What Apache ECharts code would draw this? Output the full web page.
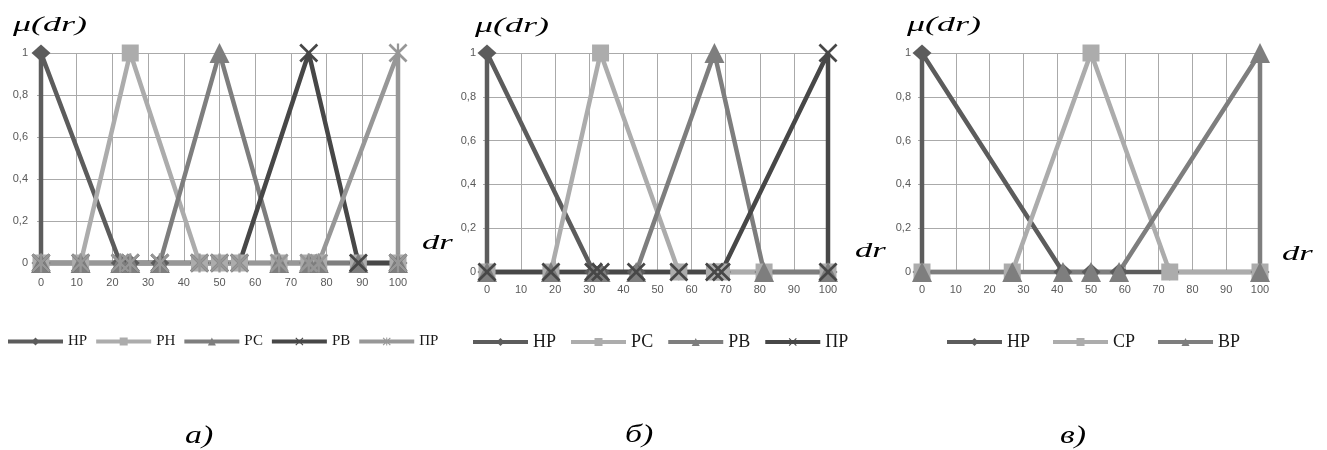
<!DOCTYPE html>
<html>
<head>
<meta charset="utf-8">
<script src="https://cdn.jsdelivr.net/npm/echarts@6/dist/echarts.min.js"></script>
<style>
  html, body { margin: 0; padding: 0; background: #fff; }
  #chart { width: 1327px; height: 450px; }
</style>
</head>
<body>
<div id="chart"></div>
<script>
// Membership functions μ(dr) of the linguistic terms, three partitions of dr ∈ [0, 100]

// а) five terms
const aNames = ['НР', 'РН', 'РС', 'РВ', 'ПР'];
const aHP = [[0,0],[0,1],[22.2,0],[25,0],[33.3,0],[44.4,0],[50,0],[55.6,0],[66.7,0],[75,0],[77.8,0],[88.9,0],[100,0]];
const aRH = [[0,0],[11.1,0],[25,1],[44.4,0],[50,0],[55.6,0],[66.7,0],[75,0],[77.8,0],[88.9,0],[100,0]];
const aRS = [[0,0],[11.1,0],[22.2,0],[25,0],[33.3,0],[50,1],[66.7,0],[75,0],[77.8,0],[88.9,0],[100,0]];
const aRV = [[0,0],[11.1,0],[22.2,0],[25,0],[33.3,0],[44.4,0],[50,0],[55.6,0],[75,1],[88.9,0],[100,0]];
const aPR = [[0,0],[11.1,0],[22.2,0],[25,0],[33.3,0],[44.4,0],[50,0],[55.6,0],[66.7,0],[75,0],[77.8,0],[100,1],[100,0]];

// б) four terms
const bNames = ['НР', 'РС', 'РВ', 'ПР'];
const bHP = [[0,0],[0,1],[31.25,0],[33.3,0],[43.75,0],[56.25,0],[66.7,0],[68.75,0],[81.25,0],[100,0]];
const bRS = [[0,0],[18.75,0],[33.3,1],[56.25,0],[66.7,0],[68.75,0],[81.25,0],[100,0]];
const bRV = [[0,0],[18.75,0],[31.25,0],[33.3,0],[43.75,0],[66.7,1],[81.25,0],[100,0]];
const bPR = [[0,0],[18.75,0],[31.25,0],[33.3,0],[43.75,0],[56.25,0],[66.7,0],[68.75,0],[100,1],[100,0]];

// в) three terms
const cNames = ['НР', 'СР', 'ВР'];
const cHP = [[0,0],[0,1],[41.7,0],[50,0],[58.3,0],[73.3,0],[100,0]];
const cSR = [[0,0],[26.7,0],[50,1],[73.3,0],[100,0]];
const cVR = [[0,0],[26.7,0],[41.7,0],[50,0],[58.3,0],[100,1],[100,0]];

// axis tick labels
const yTickLabels = ['0', '0,2', '0,4', '0,6', '0,8', '1'];
const xTickLabels = ['0', '10', '20', '30', '40', '50', '60', '70', '80', '90', '100'];

// panel captions and axis titles
const panelCaptions = ['а)', 'б)', 'в)'];
const yTitle = 'μ(dr)';
const xTitle = 'dr';

// marker shapes: a cross and an asterisk (cross with a vertical bar)
const X_PATH = 'path://M0,1L1,0L5,4L9,0L10,1L6,5L10,9L9,10L5,6L1,10L0,9L4,5Z';
const STAR_PATH = X_PATH + 'M4.4,0L5.6,0L5.6,10L4.4,10Z';

const C_DARK = '#5c5c5c';
const C_LIGHT = '#acacac';
const C_MID = '#7e7e7e';
const C_DARKER = '#474747';
const C_PALE = '#979797';
const LINE_W = 4.5;

const grids = [
  { left: 41, top: 53, width: 357, height: 210 },
  { left: 487, top: 53, width: 341, height: 219 },
  { left: 922, top: 53, width: 338, height: 219 }
];

const gridLine = { show: true, lineStyle: { color: '#aaaaaa', width: 1 } };
const tickFont = { fontFamily: 'Liberation Sans', fontSize: 11, color: '#595959' };

const xAxes = grids.map((g, i) => ({
  type: 'value', gridIndex: i, min: 0, max: 100, interval: 10,
  axisLine: { show: true, lineStyle: { color: '#aaaaaa' } },
  axisTick: { show: false },
  splitLine: gridLine,
  axisLabel: Object.assign({ margin: i === 0 ? 14 : 12,
    formatter: v => xTickLabels[Math.round(v / 10)] }, tickFont)
}));

const yAxes = grids.map((g, i) => ({
  type: 'value', gridIndex: i, min: 0, max: 1, interval: 0.2,
  axisLine: { show: true, lineStyle: { color: '#aaaaaa' } },
  axisTick: { show: true, length: 4, lineStyle: { color: '#aaaaaa' } },
  splitLine: gridLine,
  axisLabel: Object.assign({ margin: i === 0 ? 13 : 11,
    formatter: v => yTickLabels[Math.round(v / 0.2)] }, tickFont)
}));

function line(panel, label, data, gi, color, symbol, size) {
  return {
    type: 'line', name: panel + '|' + label, data: data,
    xAxisIndex: gi, yAxisIndex: gi,
    symbol: symbol, symbolSize: size, showSymbol: true, clip: false,
    lineStyle: { color: color, width: LINE_W },
    itemStyle: { color: color },
    emphasis: { disabled: true },
    animation: false
  };
}

const series = [
  line('а', aNames[0], aHP, 0, C_DARK, 'diamond', [19, 17]),
  line('а', aNames[1], aRH, 0, C_LIGHT, 'rect', 17),
  line('а', aNames[2], aRS, 0, C_MID, 'triangle', 20),
  line('а', aNames[3], aRV, 0, C_DARKER, X_PATH, 19),
  line('а', aNames[4], aPR, 0, C_PALE, STAR_PATH, 19),

  line('б', bNames[0], bHP, 1, C_DARK, 'diamond', [19, 17]),
  line('б', bNames[1], bRS, 1, C_LIGHT, 'rect', 17),
  line('б', bNames[2], bRV, 1, C_MID, 'triangle', 20),
  line('б', bNames[3], bPR, 1, C_DARKER, X_PATH, 19),

  line('в', cNames[0], cHP, 2, C_DARK, 'diamond', [19, 17]),
  line('в', cNames[1], cSR, 2, C_LIGHT, 'rect', 17),
  line('в', cNames[2], cVR, 2, C_MID, 'triangle', 20)
];

const legendBase = {
  orient: 'horizontal', itemWidth: 55, itemHeight: 10, padding: 0, selectedMode: false,
  formatter: n => n.split('|')[1],
  lineStyle: { width: 4 },
  textStyle: { fontFamily: 'Liberation Serif', color: '#1a1a1a' }
};

const legends = [
  Object.assign({}, legendBase, { data: aNames.map(n => 'а|' + n), left: 6, top: 334, itemGap: 7,
    textStyle: Object.assign({}, legendBase.textStyle, { fontSize: 15 }) }),
  Object.assign({}, legendBase, { data: bNames.map(n => 'б|' + n), left: 471, top: 333, itemGap: 13,
    textStyle: Object.assign({}, legendBase.textStyle, { fontSize: 18 }) }),
  Object.assign({}, legendBase, { data: cNames.map(n => 'в|' + n), left: 945, top: 333, itemGap: 21,
    textStyle: Object.assign({}, legendBase.textStyle, { fontSize: 18 }) })
];

function mathText(text, x, y, size, sx) {
  return {
    type: 'text', x: x, y: y, scaleX: sx, silent: true,
    style: { text: text, fontFamily: 'Liberation Serif', fontStyle: 'italic',
      fontSize: size, fill: '#000', align: 'left', verticalAlign: 'middle' }
  };
}

const graphic = [
  mathText(yTitle, 13, 26, 20, 1.8),
  mathText(yTitle, 475, 27, 20, 1.8),
  mathText(yTitle, 907, 26, 20, 1.8),
  mathText(xTitle, 422, 243, 21, 1.65),
  mathText(xTitle, 855, 251, 21, 1.65),
  mathText(xTitle, 1282, 254, 21, 1.65),
  mathText(panelCaptions[0], 185, 436, 26, 1.3),
  mathText(panelCaptions[1], 625, 435, 26, 1.3),
  mathText(panelCaptions[2], 1060, 436, 26, 1.3)
];

const chart = echarts.init(document.getElementById('chart'), null, { renderer: 'canvas' });
chart.setOption({
  backgroundColor: '#fff',
  animation: false,
  grid: grids,
  xAxis: xAxes,
  yAxis: yAxes,
  legend: legends,
  series: series,
  graphic: graphic
});
</script>
</body>
</html>
